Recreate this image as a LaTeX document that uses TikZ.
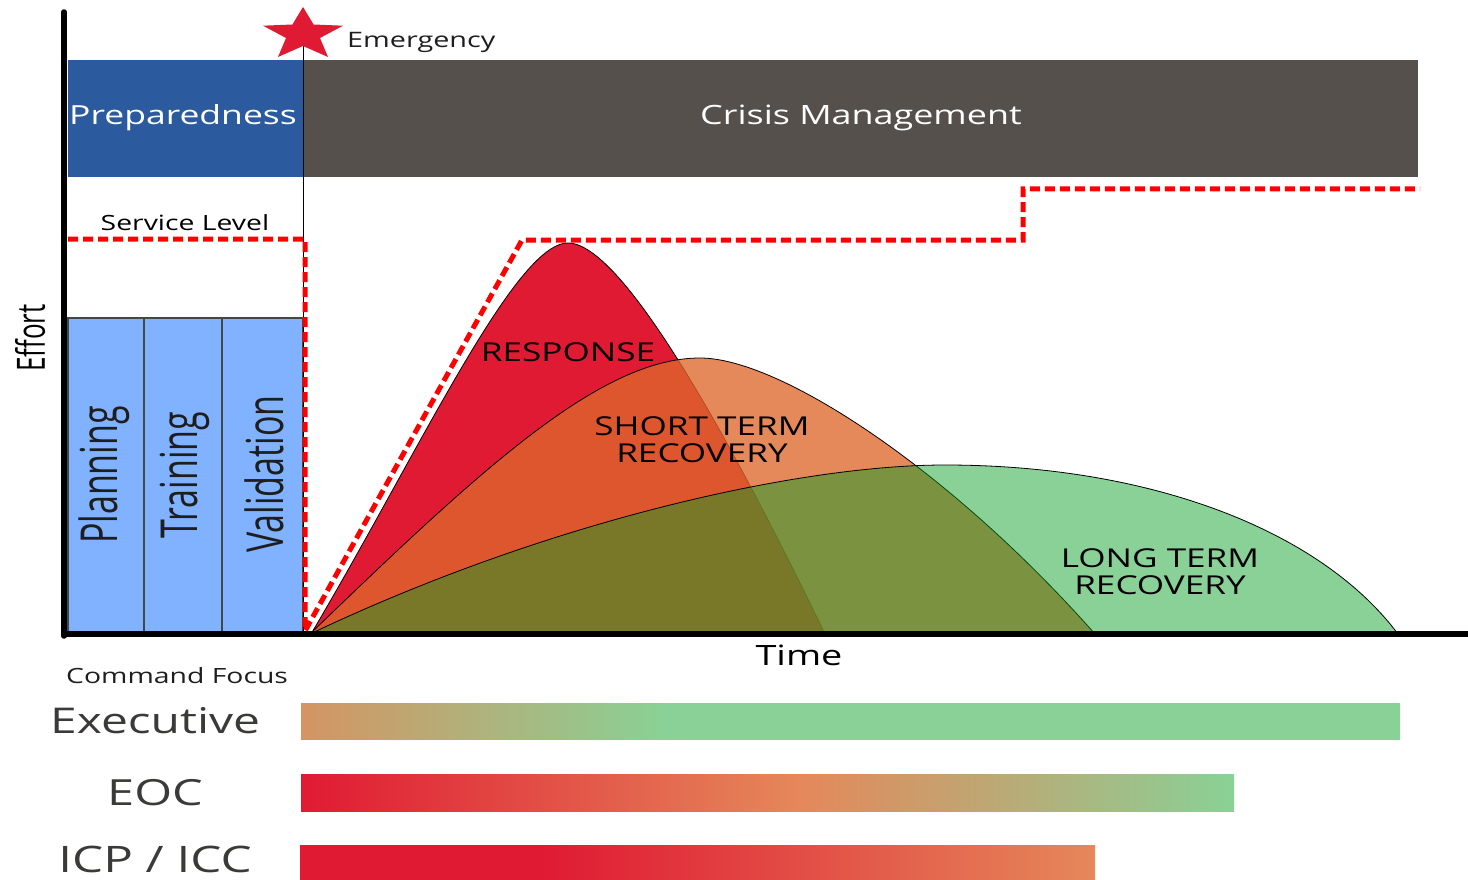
\documentclass[tikz,border=0pt]{standalone}
\usepackage{fontspec}
\setmainfont[FakeStretch=1.35]{Open Sans}
\newfontfamily\condfont{Open Sans}
\newcommand\fsz[1]{\fontsize{#1}{#1}\selectfont}
\definecolor{prepblue}{RGB}{43,90,158}
\definecolor{crisisgray}{RGB}{85,80,76}
\definecolor{lightblue}{RGB}{128,178,255}
\definecolor{boxline}{RGB}{70,70,70}
\definecolor{starred}{RGB}{224,26,51}
\definecolor{dashred}{RGB}{255,0,0}
\definecolor{respred}{RGB}{224,26,51}
\definecolor{storange}{RGB}{222,103,44}
\definecolor{ltgreen}{RGB}{9,159,36}
\definecolor{barred}{RGB}{224,26,51}
\definecolor{barorange}{RGB}{229,136,90}
\definecolor{bargreen}{RGB}{137,209,150}
\definecolor{bartan}{RGB}{213,148,98}
\definecolor{txt}{RGB}{30,30,30}
\definecolor{bigtxt}{RGB}{60,58,56}
\pgfdeclarehorizontalshading{execshade}{100bp}{color(0bp)=(bartan); color(25bp)=(bartan); color(41.6bp)=(bargreen); color(100bp)=(bargreen)}
\pgfdeclarehorizontalshading{eocshade}{100bp}{color(0bp)=(barred); color(25bp)=(barred); color(51.8bp)=(barorange); color(75bp)=(bargreen); color(100bp)=(bargreen)}
\pgfdeclarehorizontalshading{icpshade}{100bp}{color(0bp)=(barred); color(40.1bp)=(barred); color(75bp)=(barorange); color(100bp)=(barorange)}
\begin{document}
\begin{tikzpicture}[x=1pt,y=-1pt,
  lbl/.style={inner sep=0pt, text=txt},
  curvelbl/.style={inner sep=0pt, text=black, font=\fsz{26}, align=center},
  rotlbl/.style={inner sep=0pt, text=txt, anchor=base, rotate=90},
  stagebox/.style={fill=lightblue, draw=boxline, line width=1.3},
  curveline/.style={draw=black, line width=0.8},
  svcline/.style={draw=dashred, line width=5, dash pattern=on 10pt off 5pt},
  axisline/.style={draw=black, line width=5.5}
]
\useasboundingbox (0,0) rectangle (1468,880);
\fill[white] (0,0) rectangle (1468,880);

% phase bars
\fill[prepblue] (68,60) rectangle (303,177);
\fill[crisisgray] (303,60) rectangle (1418,177);
\node[lbl, text=white, font=\fsz{26.3}, anchor=base] (prep) at (183,125) {Preparedness};
\node[lbl, text=white, font=\fsz{26.6}, anchor=base] (crisis) at (861,125) {Crisis Management};

% stage boxes
\path[stagebox] (68,318) rectangle (144,634);
\path[stagebox] (144,318) rectangle (222,634);
\path[stagebox] (222,318) rectangle (303,634);
\node[rotlbl, font=\condfont\fsz{34}] (plan) at (117,475) {\scalebox{1}[1.5]{Planning}};
\node[rotlbl, font=\condfont\fsz{34}] (train) at (197,475) {\scalebox{1}[1.5]{Training}};
\node[rotlbl, font=\condfont\fsz{34}] (valid) at (283,474) {\scalebox{1}[1.5]{Validation}};
\node[rotlbl, font=\condfont\fsz{26}, text=black] (effort) at (45,338) {\scalebox{1}[1.5]{Effort}};

% curves
\path[curveline, fill=respred] (311,634) .. controls (420,450) and (515,243) .. (568,243)
  .. controls (630,243) and (760,500) .. (825,634) -- cycle;
\path[curveline, fill=storange, fill opacity=0.78] (310,634) .. controls (480,470) and (600,358) .. (700,358)
  .. controls (780,358) and (950,470) .. (1095,634) -- cycle;
\path[curveline, fill=ltgreen, fill opacity=0.48] (310,634) .. controls (550,520) and (800,465) .. (945,465)
  .. controls (1150,465) and (1320,530) .. (1398,634) -- cycle;
\node[curvelbl] (resp) at (568,352) {RESPONSE};
\node[curvelbl] (short) at (702,440) {SHORT TERM\\[1pt]RECOVERY};
\node[curvelbl] (long) at (1160,572) {LONG TERM\\[1pt]RECOVERY};

% emergency marker
\draw[line width=1, black] (303,34) -- (303,634);
\fill[starred] (303,7) -- (313.6,24.5) -- (343,25.7) -- (320,38) -- (328,57)
  -- (303,46) -- (278,57) -- (286,38) -- (263,25.7) -- (292.4,24.5) -- cycle;
\node[lbl, font=\fsz{21.3}, anchor=base west] (emerg) at (347,48) {Emergency};

% service level
\node[lbl, font=\fsz{21}, text=black, anchor=base] (svc) at (185,230) {Service Level};
\draw[svcline] (68,239) -- (305,239) -- (305,631) -- (522,240) -- (1023,240) -- (1023,189) -- (1420,189);

% axes
\draw[axisline, line cap=round] (64,12) -- (64,636);
\draw[axisline] (62,634) -- (1468,634);
\node[lbl, font=\fsz{28}, text=black, anchor=base] (time) at (799,665) {Time};

% command focus
\node[lbl, font=\fsz{21}, anchor=base west] (cmd) at (66,683) {Command Focus};
\node[lbl, font=\fsz{35.5}, anchor=base west, text=bigtxt] (exec) at (50,733) {Executive};
\node[lbl, font=\fsz{36}, anchor=base, text=bigtxt] (eoc) at (155,805) {EOC};
\node[lbl, font=\fsz{36.5}, anchor=base, text=bigtxt] (icp) at (155,872) {ICP / ICC};

\shade[shading=execshade] (301,703) rectangle (1400,739);
\shade[shading=eocshade] (301,774) rectangle (1234,811);
\shade[shading=icpshade] (300,845) rectangle (1095,880);
\end{tikzpicture}
\end{document}
